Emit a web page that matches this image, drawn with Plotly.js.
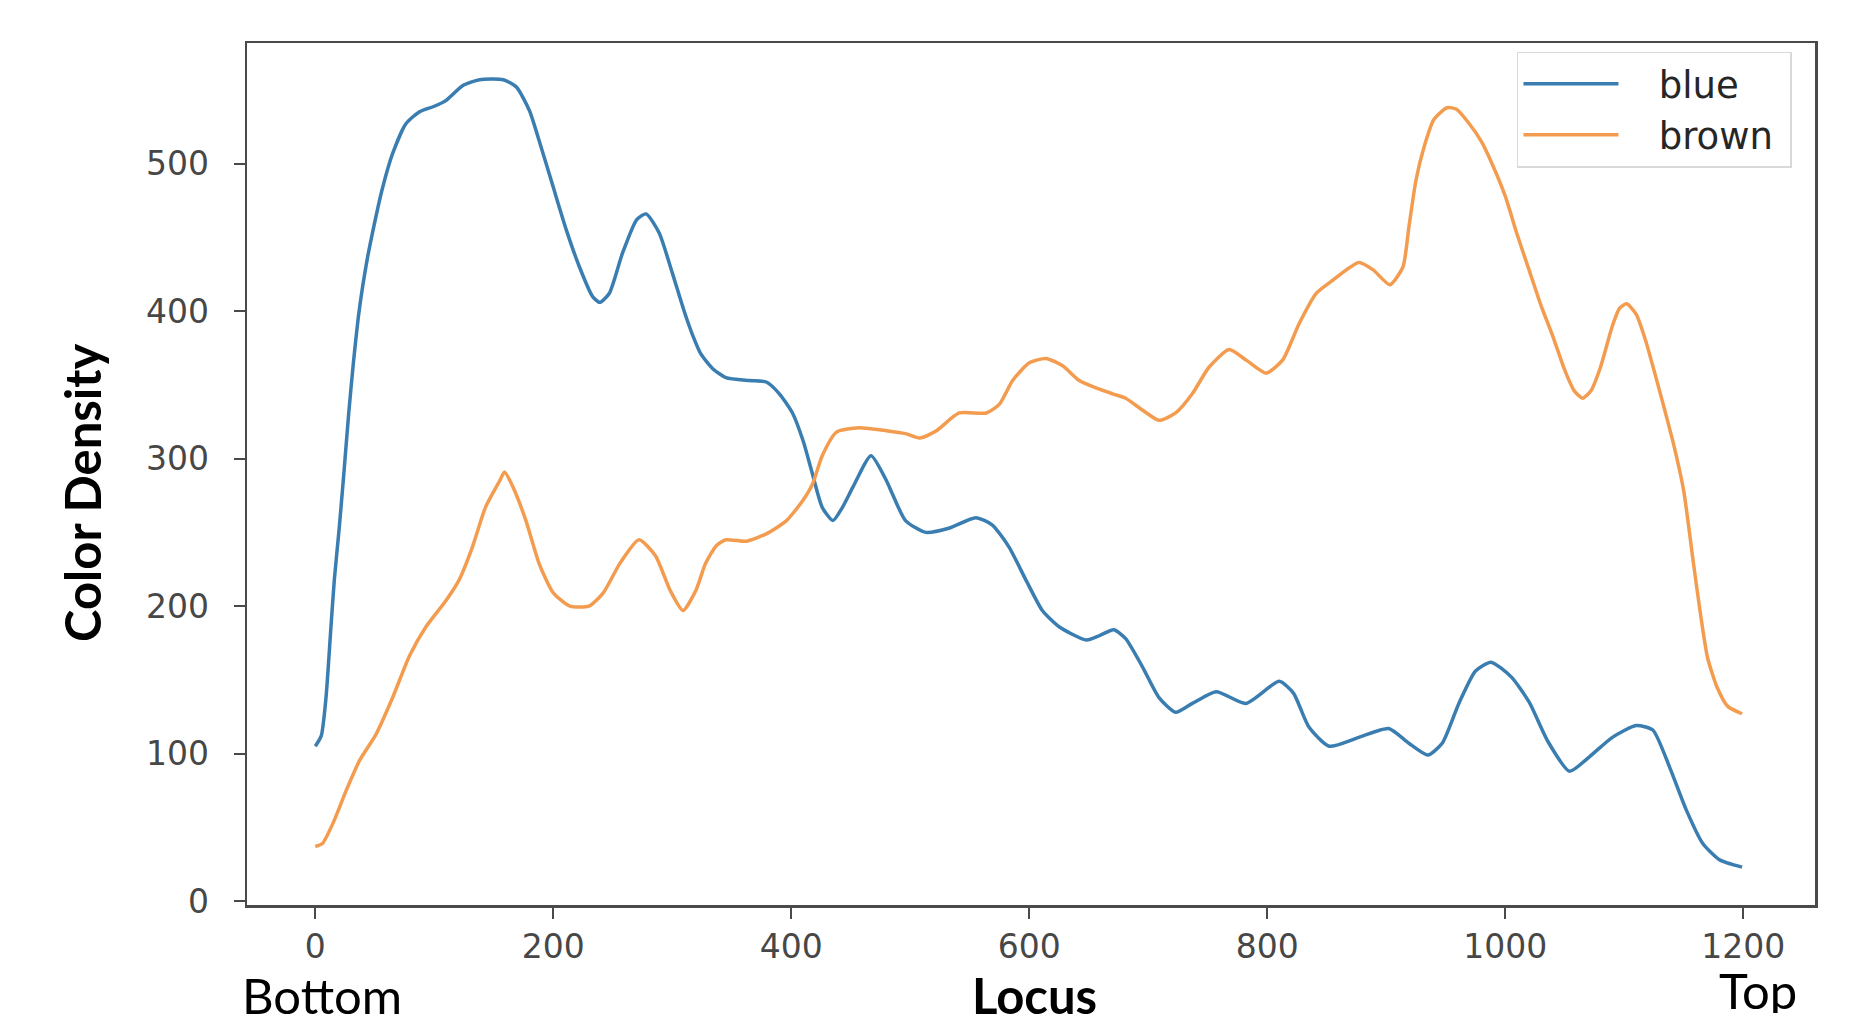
<!DOCTYPE html>
<html>
<head>
<meta charset="utf-8">
<script src="https://cdn.plot.ly/plotly-3.0.1.min.js"></script>
<style>
  html, body { margin: 0; padding: 0; background: #ffffff; }
  #chart { width: 1862px; height: 1024px; }
</style>
</head>
<body>
<div id="chart"></div>
<script>
// ---- data ----
const blueLocus = [0,5,9,13,16,20,24,28,32,36,40,44,48,56,65,76,87,100,110,124,138,158,169,180,188,200,211,222,233,239,247,258,270,278,289,300,310,317,324,334,345,365,379,390,401,410,417,426,435,443,452,467,480,485,496,513,533,555,569,583,597,611,625,648,659,671,681,695,709,723,737,757,782,810,822,835,852,877,902,919,935,947,961,975,988,1005,1020,1036,1054,1071,1090,1110,1124,1138,1152,1166,1180,1199];
const blueDensity = [105,112,138,184,218,252,290,330,365,395,418,437,453,482,507,527,535,539,543,553,557,557,552,536,516,484,455,430,410,406,412,439,462,466,453,426,400,384,371,361,355,353,352,344,331,312,292,267,258,267,281,302,285,276,258,250,253,260,255,240,218,197,186,177,180,184,178,159,138,128,134,142,134,149,141,118,105,111,117,107,99,107,134,156,162,152,135,108,88,98,111,119,116,91,62,39,28,23];

const brownLocus = [0,6,15,26,37,51,65,79,93,110,121,132,143,155,159,166,177,188,200,214,230,242,256,272,286,298,309,320,328,337,345,362,379,396,410,418,426,438,457,480,496,508,522,541,564,575,586,600,614,628,642,656,670,681,695,709,723,737,751,768,782,799,813,827,841,855,877,889,903,914,919,925,932,940,951,959,968,980,990,1000,1010,1020,1030,1040,1050,1058,1065,1072,1080,1090,1096,1102,1110,1118,1126,1134,1142,1150,1158,1164,1170,1178,1187,1199];
const brownDensity = [37,39,53,75,95,113,138,166,186,204,218,240,267,285,291,281,258,229,209,200,200,209,229,245,234,211,197,211,229,241,245,244,249,258,272,283,302,318,321,319,317,314,319,331,331,337,353,365,368,363,353,348,344,341,333,326,331,344,362,374,367,358,367,392,412,421,433,428,418,430,457,489,512,530,538,537,529,515,498,478,452,428,404,383,360,346,341,346,362,390,402,405,398,380,357,333,308,278,230,195,165,145,132,127];

const seriesNames = ["blue", "brown"];
const xTicks = [0, 200, 400, 600, 800, 1000, 1200];
const yTicks = [0, 100, 200, 300, 400, 500];
const xAxisLabel = "Locus";
const yAxisLabel = "Color Density";
const leftNote = "Bottom";
const rightNote = "Top";

// spacing around legend labels
const legendGap = "\u00a0\u00a0\u00a0";
const legendTail = "\u00a0";

const traces = [
  {
    x: blueLocus, y: blueDensity, name: legendGap + seriesNames[0] + legendTail, type: "scatter", mode: "lines",
    line: { color: "#3a7db0", width: 3.5, shape: "spline", smoothing: 0.6 }
  },
  {
    x: brownLocus, y: brownDensity, name: legendGap + seriesNames[1] + legendTail, type: "scatter", mode: "lines",
    line: { color: "#f39c4f", width: 3.5, shape: "spline", smoothing: 0.6 }
  }
];

const tickFont = { family: "DejaVu Sans", size: 33, color: "#474747" };
const noteFont = { family: "Lato", size: 49, color: "#000000" };

const layout = {
  width: 1862, height: 1024,
  paper_bgcolor: "#ffffff", plot_bgcolor: "#ffffff",
  margin: { l: 247, r: 47, t: 43, b: 119, pad: 0 },
  showlegend: true,
  legend: {
    x: 0.9853, y: 0.99, xanchor: "right", yanchor: "top",
    bgcolor: "#ffffff", bordercolor: "#d9d9d9", borderwidth: 1.5,
    font: { family: "DejaVu Sans", size: 37, color: "#262626" },
    itemwidth: 95, tracegroupgap: 0
  },
  xaxis: {
    range: [-57.4, 1260.3], tickvals: xTicks, ticktext: xTicks.map(String),
    ticks: "outside", ticklen: 11, tickwidth: 2, tickcolor: "#4a4a4a",
    showline: true, linecolor: "#4a4a4a", linewidth: 2.5, mirror: true,
    showgrid: false, zeroline: false, tickfont: tickFont, ticklabelstandoff: 0
  },
  yaxis: {
    range: [-2.7, 581.9], tickvals: yTicks, ticktext: yTicks.map(String),
    ticks: "outside", ticklen: 11, tickwidth: 2, tickcolor: "#4a4a4a",
    showline: true, linecolor: "#4a4a4a", linewidth: 2.5, mirror: true,
    showgrid: false, zeroline: false, tickfont: tickFont, ticklabelstandoff: 18
  },
  annotations: [
    { text: leftNote, xref: "paper", yref: "paper", x: (240 - 247) / 1568, y: (905 - 995) / 862,
      xanchor: "left", yanchor: "middle", height: 46, valign: "middle", showarrow: false, font: noteFont },
    { text: "<b>" + xAxisLabel + "</b>", xref: "paper", yref: "paper", x: (1034 - 247) / 1568, y: (905 - 995) / 862,
      xanchor: "center", yanchor: "middle", height: 46, valign: "middle", showarrow: false, font: noteFont },
    { text: rightNote, xref: "paper", yref: "paper", x: (1758 - 247) / 1568, y: (905 - 990) / 862,
      xanchor: "center", yanchor: "middle", height: 46, valign: "middle", showarrow: false, font: noteFont },
    { text: "<b>" + yAxisLabel + "</b>", xref: "paper", yref: "paper", x: (82 - 247) / 1568, y: (905 - 493) / 862,
      xanchor: "center", yanchor: "middle", textangle: -90, showarrow: false, font: noteFont }
  ]
};

Plotly.newPlot("chart", traces, layout, { displayModeBar: false, staticPlot: true });
</script>
</body>
</html>
